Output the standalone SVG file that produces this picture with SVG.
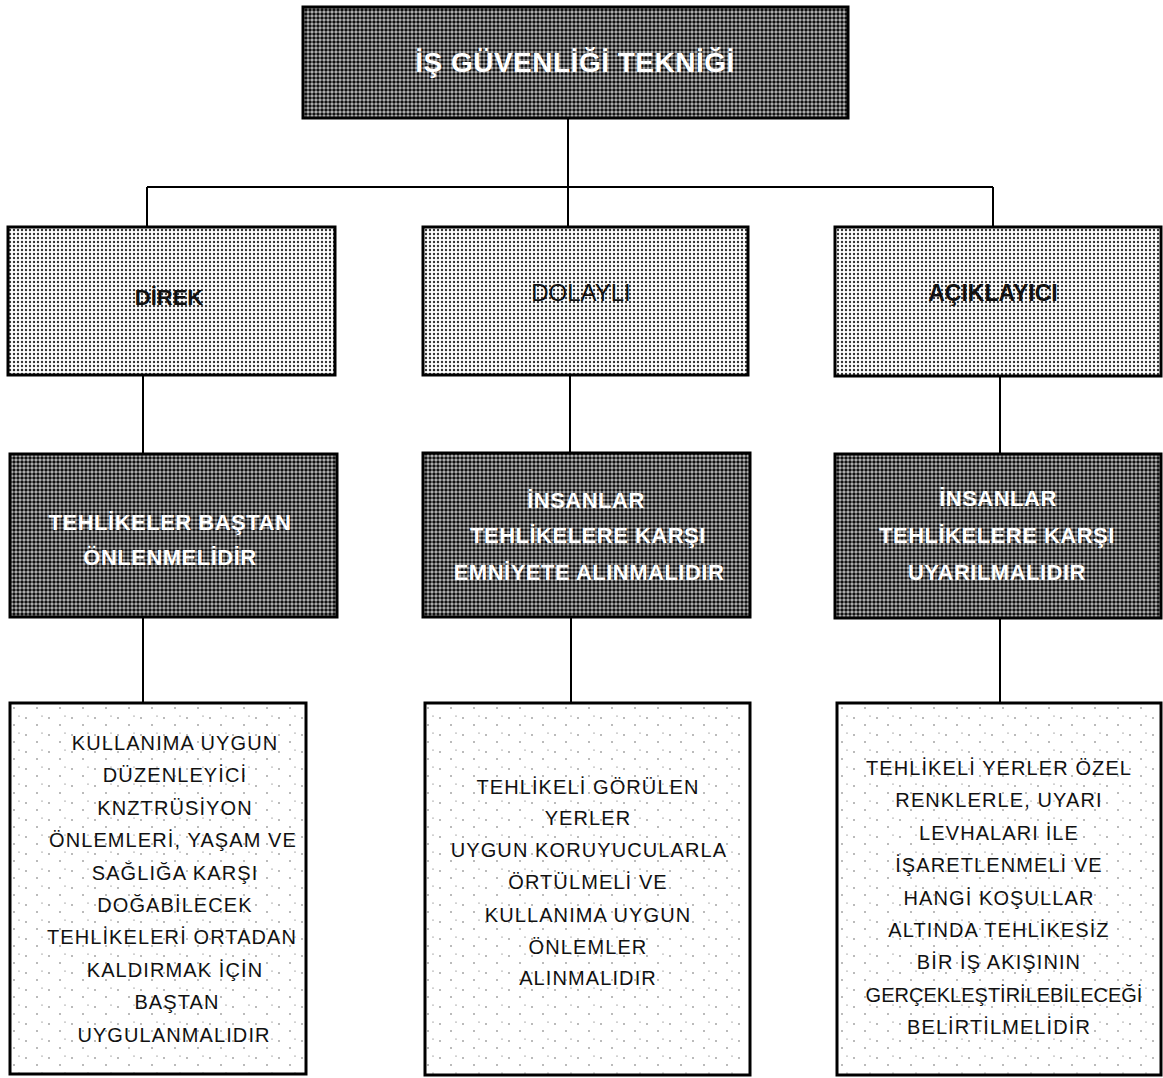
<svg xmlns="http://www.w3.org/2000/svg" width="1163" height="1078" viewBox="0 0 1163 1078">
<style>
.box{stroke:#000;stroke-width:3}
.dark{fill:url(#dk)}
.light{fill:url(#lt)}
.sparse{fill:url(#sp)}
.con{stroke:#000;stroke-width:2;fill:none}
.wt{font-family:"Liberation Sans",Arial,sans-serif;font-weight:bold;fill:#fff;text-anchor:middle;font-size:22px;letter-spacing:0.5px}
.lbl{font-family:"Liberation Sans",Arial,sans-serif;fill:#111;text-anchor:middle}
.body{font-family:"Liberation Sans",Arial,sans-serif;fill:#111;text-anchor:middle;font-size:20px;letter-spacing:1.1px}
</style>
<defs>
<pattern id="dk" width="4" height="4" patternUnits="userSpaceOnUse"><rect width="4" height="4" fill="#bdbdbd"/><circle cx="2" cy="2" r="1.75" fill="#111"/></pattern>
<pattern id="lt" width="4" height="4" patternUnits="userSpaceOnUse"><rect width="4" height="4" fill="#fff"/><circle cx="2" cy="2" r="1.2" fill="#333"/></pattern>
<pattern id="sp" width="23" height="17" patternUnits="userSpaceOnUse"><rect width="23" height="17" fill="#fff"/><circle cx="3" cy="4" r="0.7" fill="#444"/><circle cx="14" cy="11" r="0.7" fill="#444"/><circle cx="19" cy="2" r="0.6" fill="#555"/></pattern>
</defs>
<rect width="1163" height="1078" fill="#fff"/>
<g id="connectors">
<path class="con" d="M568 118V187M147 187H993M147 187V227M568 187V227M993 187V227"/>
<path class="con" d="M143 375V454M570 375V453M1000 376V454"/>
<path class="con" d="M143 617V703M571 617V703M1000 618V703"/>
</g>
<g id="n-top">
<rect class="box dark" x="303" y="7" width="545" height="111"/>
<text class="wt" x="575" y="72" style="font-size:28px">İŞ GÜVENLİĞİ TEKNİĞİ</text>
</g>
<g id="n-direk">
<rect class="box light" x="8" y="227" width="327" height="148"/>
<text class="lbl" x="169" y="305" style="font-size:22px;font-weight:bold">DİREK</text>
</g>
<g id="n-dolayli">
<rect class="box light" x="423" y="227" width="325" height="148"/>
<text class="lbl" x="581" y="301" style="font-size:24px">DOLAYLI</text>
</g>
<g id="n-aciklayici">
<rect class="box light" x="835" y="227" width="326" height="149"/>
<text class="lbl" x="993" y="301" style="font-size:23px;font-weight:bold">AÇIKLAYICI</text>
</g>
<g id="n-direk-2">
<rect class="box dark" x="10" y="454" width="327" height="163"/>
<text class="wt" x="170"><tspan x="170" y="530">TEHLİKELER BAŞTAN</tspan><tspan x="170" y="565">ÖNLENMELİDİR</tspan></text>
</g>
<g id="n-dolayli-2">
<rect class="box dark" x="423" y="453" width="327" height="164"/>
<text class="wt" x="588"><tspan x="586" y="508">İNSANLAR</tspan><tspan x="588" y="543">TEHLİKELERE KARŞI</tspan><tspan x="589" y="580">EMNİYETE ALINMALIDIR</tspan></text>
</g>
<g id="n-aciklayici-2">
<rect class="box dark" x="835" y="454" width="326" height="164"/>
<text class="wt" x="997"><tspan x="998" y="506">İNSANLAR</tspan><tspan x="997" y="543">TEHLİKELERE KARŞI</tspan><tspan x="997" y="580">UYARILMALIDIR</tspan></text>
</g>
<g id="n-direk-3">
<rect class="box sparse" x="10" y="703" width="296" height="371"/>
<text class="body"><tspan x="175" y="750">KULLANIMA UYGUN</tspan><tspan x="175" y="782">DÜZENLEYİCİ</tspan><tspan x="175" y="815">KNZTRÜSİYON</tspan><tspan x="173" y="847">ÖNLEMLERİ, YAŞAM VE</tspan><tspan x="175" y="880">SAĞLIĞA KARŞI</tspan><tspan x="175" y="912">DOĞABİLECEK</tspan><tspan x="172" y="944">TEHLİKELERİ ORTADAN</tspan><tspan x="175" y="977">KALDIRMAK İÇİN</tspan><tspan x="177" y="1009">BAŞTAN</tspan><tspan x="174" y="1042">UYGULANMALIDIR</tspan></text>
</g>
<g id="n-dolayli-3">
<rect class="box sparse" x="425" y="703" width="325" height="372"/>
<text class="body"><tspan x="588" y="794">TEHLİKELİ GÖRÜLEN</tspan><tspan x="588" y="825">YERLER</tspan><tspan x="589" y="857">UYGUN KORUYUCULARLA</tspan><tspan x="588" y="889">ÖRTÜLMELİ VE</tspan><tspan x="588" y="922">KULLANIMA UYGUN</tspan><tspan x="588" y="954">ÖNLEMLER</tspan><tspan x="588" y="985">ALINMALIDIR</tspan></text>
</g>
<g id="n-aciklayici-3">
<rect class="box sparse" x="837" y="703" width="324" height="372"/>
<text class="body"><tspan x="999" y="775">TEHLİKELİ YERLER ÖZEL</tspan><tspan x="999" y="807">RENKLERLE, UYARI</tspan><tspan x="999" y="840">LEVHALARI İLE</tspan><tspan x="999" y="872">İŞARETLENMELİ VE</tspan><tspan x="999" y="905">HANGİ KOŞULLAR</tspan><tspan x="999" y="937">ALTINDA TEHLİKESİZ</tspan><tspan x="999" y="969">BİR İŞ AKIŞININ</tspan><tspan x="1004" y="1002" style="letter-spacing:0px">GERÇEKLEŞTİRİLEBİLECEĞİ</tspan><tspan x="999" y="1034">BELİRTİLMELİDİR</tspan></text>
</g>
</svg>
